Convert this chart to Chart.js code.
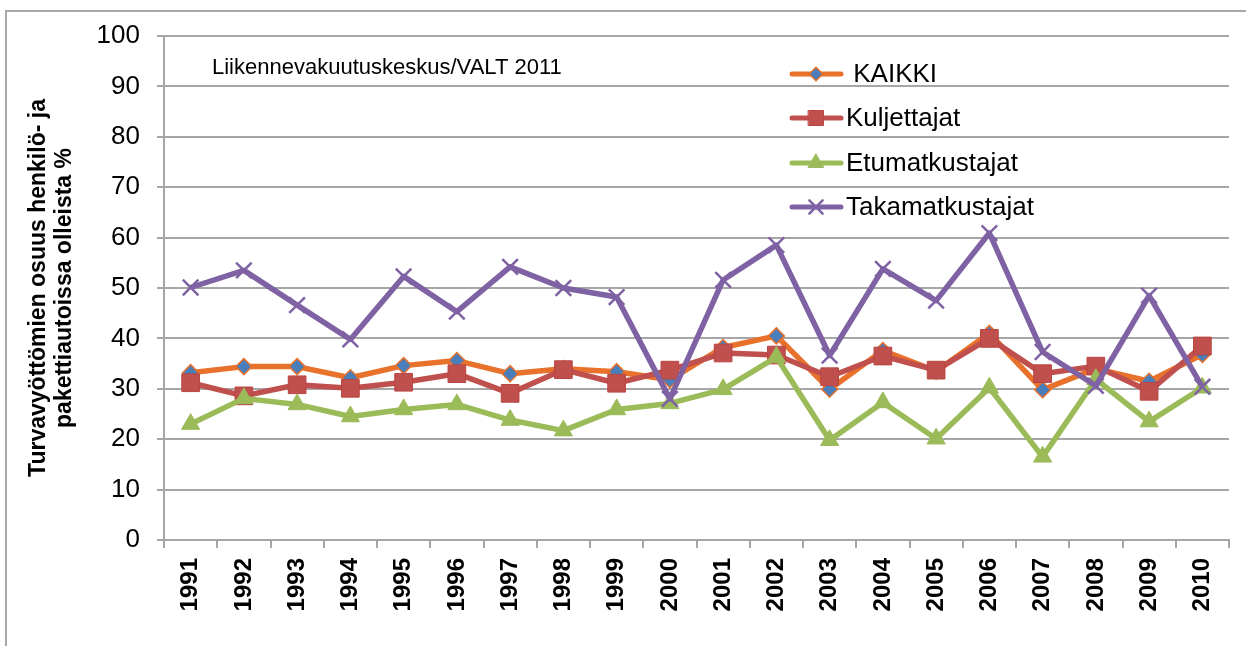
<!DOCTYPE html>
<html>
<head>
<meta charset="utf-8">
<script src="https://cdn.jsdelivr.net/npm/chart.js@4.4.1/dist/chart.umd.min.js"></script>
<style>
  html, body { margin: 0; padding: 0; background: #fff; }
  canvas { display: block; }
</style>
</head>
<body>
<canvas id="chart" width="1246" height="646"></canvas>
<script>
// data
const years = ["1991", "1992", "1993", "1994", "1995", "1996", "1997", "1998", "1999", "2000",
  "2001", "2002", "2003", "2004", "2005", "2006", "2007", "2008", "2009", "2010"];
const kaikki = [33.2, 34.4, 34.4, 32.2, 34.6, 35.6, 33.0, 34.0, 33.4, 31.8, 38.2, 40.5, 29.9, 37.6, 33.5, 41.0, 29.8, 34.0, 31.5, 36.8];
const kuljettajat = [31.2, 28.6, 30.8, 30.1, 31.3, 33.0, 29.1, 33.8, 31.1, 33.7, 37.1, 36.7, 32.4, 36.5, 33.7, 40.0, 33.0, 34.5, 29.5, 38.5];
const etumatkustajat = [23.0, 28.1, 26.9, 24.5, 25.9, 26.9, 23.8, 21.7, 25.9, 27.1, 29.9, 36.3, 19.8, 27.3, 20.1, 30.2, 16.5, 31.9, 23.5, 30.2];
const takamatkustajat = [50.1, 53.5, 46.6, 39.8, 52.3, 45.3, 54.2, 50.0, 48.2, 28.0, 51.6, 58.5, 36.6, 53.8, 47.5, 60.9, 37.3, 30.6, 48.5, 30.4];
const yTicks = [0, 10, 20, 30, 40, 50, 60, 70, 80, 90, 100];
const seriesNames = [" KAIKKI", "Kuljettajat", "Etumatkustajat", "Takamatkustajat"];
const sourceText = "Liikennevakuutuskeskus/VALT 2011";
const yTitle = ["Turvavyöttömien osuus henkilö- ja", "pakettiautoissa olleista %"];

const FONT = "'Liberation Sans', Arial, sans-serif";
const gridColor = "#a6a6a6";

// frame line at top and left like the original picture
const framePlugin = {
  id: "frame",
  beforeDraw(chart) {
    const ctx = chart.ctx;
    ctx.save();
    ctx.strokeStyle = "#a9a9a9";
    ctx.lineWidth = 2;
    ctx.beginPath();
    ctx.moveTo(6, 646);
    ctx.lineTo(6, 11);
    ctx.lineTo(1246, 11);
    ctx.stroke();
    ctx.restore();
  }
};

// source text and legend inside the plot area
const overlayPlugin = {
  id: "overlay",
  afterDraw(chart) {
    const ctx = chart.ctx;
    const area = chart.chartArea;
    ctx.save();
    ctx.fillStyle = "#000";
    ctx.font = "22px " + FONT;
    ctx.textBaseline = "middle";
    ctx.textAlign = "left";
    ctx.fillText(sourceText, area.left + 48, area.top + 32);

    const rows = [74, 118, 163, 207];
    chart.data.datasets.forEach((ds, i) => {
      const y = rows[i];
      ctx.strokeStyle = ds.borderColor;
      ctx.lineWidth = 5;
      ctx.lineCap = "round";
      ctx.beginPath();
      ctx.moveTo(792, y);
      ctx.lineTo(841, y);
      ctx.stroke();
      ctx.fillStyle = ds.pointBackgroundColor;
      ctx.strokeStyle = ds.pointBorderColor;
      ctx.lineWidth = ds.pointBorderWidth;
      Chart.helpers.drawPoint(ctx, {
        pointStyle: ds.pointStyle,
        radius: ds.pointRadius * 0.85,
        rotation: 0,
        borderWidth: ds.pointBorderWidth
      }, 816, y);
      ctx.fillStyle = "#000";
      ctx.font = "26px " + FONT;
      ctx.fillText(seriesNames[i], 846, y + 1);
    });
    ctx.restore();
  }
};

const datasets = [
  {
    label: seriesNames[0], data: kaikki, order: 4,
    borderColor: "#e8712b", pointBackgroundColor: "#4a7ebb", pointBorderColor: "#e8712b",
    pointStyle: "rectRot", pointRadius: 8, pointBorderWidth: 1.5
  },
  {
    label: seriesNames[1], data: kuljettajat, order: 3,
    borderColor: "#c0504d", pointBackgroundColor: "#c0504d", pointBorderColor: "#b94542",
    pointStyle: "rect", pointRadius: 12.5, pointBorderWidth: 1
  },
  {
    label: seriesNames[2], data: etumatkustajat, order: 2,
    borderColor: "#9bbb59", pointBackgroundColor: "#9bbb59", pointBorderColor: "#9bbb59",
    pointStyle: "triangle", pointRadius: 10.5, pointBorderWidth: 1
  },
  {
    label: seriesNames[3], data: takamatkustajat, order: 1,
    borderColor: "#7f62a3", pointBackgroundColor: "#7f62a3", pointBorderColor: "#7f62a3",
    pointStyle: "crossRot", pointRadius: 11, pointBorderWidth: 2.5
  }
];
datasets.forEach(ds => {
  ds.borderWidth = 5.5;
  ds.tension = 0;
  ds.fill = false;
  ds.borderJoinStyle = "round";
  ds.pointHoverRadius = ds.pointRadius;
});

new Chart(document.getElementById("chart"), {
  type: "line",
  data: { labels: years, datasets: datasets },
  options: {
    responsive: false,
    animation: false,
    layout: { padding: { left: 0, top: 36, right: 17, bottom: 0 } },
    plugins: {
      legend: { display: false },
      tooltip: { enabled: false }
    },
    scales: {
      x: {
        offset: true,
        afterFit(scale) { scale.height = 106; },
        grid: {
          offset: true,
          drawOnChartArea: false,
          drawTicks: true,
          tickLength: 8,
          color: gridColor,
          lineWidth: 2
        },
        border: { color: gridColor, width: 2 },
        ticks: {
          autoSkip: false,
          minRotation: 90,
          maxRotation: 90,
          padding: 10,
          color: "#000",
          font: { family: FONT, size: 24, weight: "bold" }
        }
      },
      y: {
        min: yTicks[0],
        max: yTicks[yTicks.length - 1],
        afterFit(scale) { scale.width = 164; },
        afterBuildTicks(scale) { scale.ticks = yTicks.map(v => ({ value: v })); },
        grid: { color: gridColor, lineWidth: 2, tickLength: 7 },
        border: { color: gridColor, width: 2 },
        ticks: {
          padding: 17,
          color: "#000",
          font: { family: FONT, size: 26 }
        },
        title: {
          display: true,
          text: yTitle,
          color: "#000",
          padding: { top: 25, bottom: 0 },
          font: { family: FONT, size: 23, weight: "bold", lineHeight: 1.15 }
        }
      }
    }
  },
  plugins: [framePlugin, overlayPlugin]
});
</script>
</body>
</html>
